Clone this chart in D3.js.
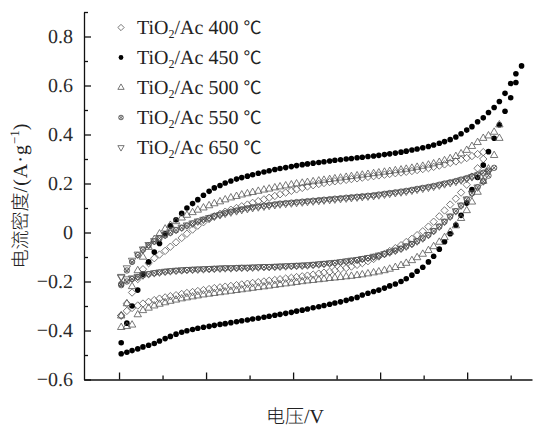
<!DOCTYPE html>
<html>
<head>
<meta charset="utf-8">
<script src="https://cdn.jsdelivr.net/npm/d3@7"></script>
<style>
  body { margin: 0; background: #fff; }
  svg { display: block; }
  text { text-rendering: geometricPrecision; }
  .serif { font-family: "Liberation Serif", "Times New Roman", serif; }
  .cjk { font-family: "Noto Sans CJK SC", sans-serif; }
</style>
</head>
<body>
<svg id="chart" width="533" height="431"></svg>
<script>
// Sweep potential (V), shared sampling grid for all scans
const volts = [0.005,0.018,0.030,0.043,0.055,0.068,0.081,0.093,0.106,0.118,
  0.131,0.144,0.156,0.169,0.181,0.194,0.207,0.219,0.232,0.244,
  0.257,0.270,0.282,0.295,0.307,0.320,0.333,0.345,0.358,0.370,
  0.383,0.396,0.408,0.421,0.433,0.446,0.459,0.471,0.484,0.496,
  0.509,0.522,0.534,0.547,0.559,0.572,0.585,0.597,0.610,0.622,
  0.635,0.648,0.660,0.673,0.685,0.698,0.711,0.723,0.736,0.748,
  0.761,0.774,0.786,0.799,0.811,0.824,0.837,0.849,0.862,0.874,
  0.887,0.900,0.912,0.925];

// Current density (A/g), forward (up) and reverse (down) sweeps
const t400Up = [-0.34,-0.29,-0.245,-0.19,-0.15,-0.125,-0.105,-0.09,-0.075,-0.058,
  -0.04,-0.022,-0.005,0.012,0.028,0.042,0.055,0.066,0.076,0.085,
  0.093,0.1,0.107,0.114,0.121,0.128,0.135,0.142,0.149,0.156,
  0.163,0.17,0.176,0.182,0.188,0.193,0.198,0.202,0.206,0.209,
  0.212,0.215,0.218,0.221,0.224,0.227,0.23,0.233,0.236,0.239,
  0.242,0.245,0.248,0.251,0.255,0.259,0.263,0.268,0.273,0.278,
  0.284,0.29,0.297,0.304,0.312,0.32,0.328];
const t400Down = [-0.338,-0.32,-0.308,-0.298,-0.29,-0.283,-0.276,-0.27,-0.265,-0.26,
  -0.256,-0.251,-0.247,-0.243,-0.239,-0.235,-0.231,-0.227,-0.224,-0.221,
  -0.218,-0.215,-0.212,-0.209,-0.206,-0.203,-0.2,-0.197,-0.194,-0.191,
  -0.188,-0.185,-0.182,-0.179,-0.176,-0.172,-0.168,-0.164,-0.16,-0.155,
  -0.15,-0.145,-0.139,-0.132,-0.125,-0.117,-0.108,-0.098,-0.087,-0.076,
  -0.064,-0.052,-0.039,-0.026,-0.011,0.005,0.024,0.044,0.066,0.09,
  0.114,0.138,0.163,0.195,0.228,0.262,0.3];

const t450Up = [-0.45,-0.37,-0.30,-0.235,-0.17,-0.12,-0.08,-0.045,-0.005,0.027,
  0.052,0.078,0.10,0.118,0.134,0.152,0.168,0.182,0.192,0.202,
  0.21,0.218,0.224,0.23,0.236,0.242,0.247,0.252,0.257,0.261,
  0.265,0.269,0.273,0.277,0.28,0.283,0.286,0.289,0.292,0.295,
  0.297,0.300,0.302,0.305,0.307,0.310,0.312,0.315,0.318,0.321,
  0.324,0.328,0.332,0.337,0.341,0.346,0.351,0.357,0.364,0.371,
  0.379,0.39,0.403,0.418,0.432,0.452,0.468,0.49,0.51,0.535,
  0.568,0.608,0.648,0.68];
const t450Down = [-0.495,-0.489,-0.482,-0.475,-0.467,-0.46,-0.453,-0.443,-0.433,-0.424,
  -0.415,-0.407,-0.401,-0.396,-0.391,-0.387,-0.383,-0.379,-0.375,-0.372,
  -0.368,-0.364,-0.36,-0.357,-0.353,-0.35,-0.346,-0.342,-0.338,-0.334,
  -0.33,-0.326,-0.321,-0.317,-0.312,-0.307,-0.303,-0.298,-0.293,-0.288,
  -0.283,-0.277,-0.271,-0.265,-0.255,-0.248,-0.241,-0.235,-0.227,-0.218,
  -0.21,-0.2,-0.189,-0.174,-0.158,-0.142,-0.12,-0.097,-0.068,-0.038,
  -0.005,0.03,0.07,0.12,0.175,0.225,0.275,0.33,0.385,0.44,
  0.495,0.55,0.612];

const t500Up = [-0.34,-0.29,-0.22,-0.155,-0.1,-0.06,-0.028,-0.005,0.015,0.03,
  0.045,0.06,0.071,0.082,0.092,0.101,0.11,0.118,0.126,0.134,
  0.142,0.148,0.154,0.159,0.164,0.169,0.174,0.178,0.183,0.187,
  0.191,0.195,0.199,0.202,0.205,0.208,0.211,0.214,0.217,0.22,
  0.223,0.226,0.229,0.232,0.235,0.238,0.241,0.244,0.247,0.25,
  0.253,0.256,0.259,0.263,0.267,0.271,0.276,0.281,0.287,0.294,
  0.302,0.311,0.322,0.336,0.352,0.368,0.385,0.395,0.41,0.44];
const t500Down = [-0.387,-0.383,-0.377,-0.335,-0.318,-0.308,-0.299,-0.292,-0.286,-0.28,
  -0.275,-0.27,-0.266,-0.262,-0.258,-0.254,-0.251,-0.248,-0.245,-0.242,
  -0.239,-0.236,-0.233,-0.23,-0.227,-0.224,-0.221,-0.218,-0.215,-0.212,
  -0.209,-0.206,-0.203,-0.2,-0.197,-0.195,-0.192,-0.19,-0.187,-0.185,
  -0.183,-0.18,-0.178,-0.175,-0.172,-0.168,-0.164,-0.16,-0.155,-0.149,
  -0.142,-0.134,-0.125,-0.114,-0.102,-0.088,-0.073,-0.057,-0.039,-0.02,
  0.002,0.028,0.058,0.09,0.125,0.165,0.21,0.26,0.315,0.385];

const t550Up = [-0.21,-0.155,-0.12,-0.092,-0.07,-0.052,-0.037,-0.024,-0.012,-0.001,
  0.009,0.019,0.028,0.037,0.045,0.053,0.06,0.067,0.073,0.079,
  0.085,0.09,0.095,0.099,0.103,0.106,0.109,0.112,0.115,0.118,
  0.12,0.122,0.124,0.126,0.128,0.13,0.132,0.134,0.136,0.138,
  0.14,0.142,0.144,0.146,0.148,0.15,0.152,0.155,0.158,0.161,
  0.164,0.167,0.17,0.174,0.178,0.182,0.186,0.19,0.195,0.2,
  0.205,0.21,0.216,0.222,0.229,0.236,0.244,0.253,0.264];
const t550Down = [-0.215,-0.2,-0.19,-0.182,-0.175,-0.17,-0.166,-0.163,-0.16,-0.158,
  -0.156,-0.155,-0.153,-0.152,-0.151,-0.15,-0.149,-0.148,-0.147,-0.146,
  -0.146,-0.145,-0.144,-0.144,-0.143,-0.142,-0.141,-0.141,-0.14,-0.139,
  -0.138,-0.137,-0.136,-0.135,-0.134,-0.132,-0.13,-0.128,-0.126,-0.124,
  -0.121,-0.118,-0.115,-0.112,-0.108,-0.104,-0.099,-0.094,-0.088,-0.081,
  -0.074,-0.066,-0.057,-0.047,-0.036,-0.024,-0.01,0.006,0.024,0.044,
  0.065,0.087,0.11,0.135,0.16,0.185,0.208,0.232];

const t650Up = [-0.18,-0.145,-0.114,-0.089,-0.068,-0.05,-0.034,-0.021,-0.009,0.002,
  0.012,0.021,0.03,0.038,0.046,0.053,0.06,0.066,0.072,0.078,
  0.083,0.088,0.093,0.097,0.101,0.104,0.107,0.11,0.113,0.116,
  0.118,0.12,0.122,0.124,0.126,0.128,0.13,0.132,0.134,0.136,
  0.138,0.14,0.142,0.144,0.146,0.148,0.15,0.153,0.156,0.159,
  0.162,0.165,0.168,0.172,0.176,0.18,0.184,0.188,0.193,0.198,
  0.203,0.208,0.214,0.22,0.227,0.234,0.242,0.25];
const t650Down = [-0.183,-0.19,-0.186,-0.18,-0.174,-0.169,-0.165,-0.162,-0.159,-0.157,
  -0.155,-0.153,-0.152,-0.151,-0.15,-0.149,-0.148,-0.147,-0.146,-0.145,
  -0.145,-0.144,-0.143,-0.143,-0.142,-0.141,-0.14,-0.14,-0.139,-0.138,
  -0.137,-0.136,-0.135,-0.134,-0.133,-0.131,-0.129,-0.127,-0.125,-0.123,
  -0.12,-0.117,-0.114,-0.111,-0.107,-0.103,-0.098,-0.093,-0.087,-0.08,
  -0.073,-0.065,-0.056,-0.046,-0.035,-0.023,-0.009,0.007,0.025,0.045,
  0.066,0.088,0.111,0.136,0.16,0.185,0.21];

const temps = ["400", "450", "500", "550", "650"];
const markerKinds = ["diamond", "dot", "triangle", "crossCircle", "triangleDown"];
const yTickValues = [-0.6, -0.4, -0.2, 0, 0.2, 0.4, 0.6, 0.8];
const yTickLabels = ["\u22120.6", "\u22120.4", "\u22120.2", "0", "0.2", "0.4", "0.6", "0.8"];
const yMinorValues = [-0.5, -0.3, -0.1, 0.1, 0.3, 0.5, 0.7, 0.9];
const xTickValues = [0, 0.2, 0.4, 0.6, 0.8];
const xMinorValues = [0.1, 0.3, 0.5, 0.7, 0.9];

const scans = [
  { up: t400Up, down: t400Down },
  { up: t450Up, down: t450Down },
  { up: t500Up, down: t500Down },
  { up: t550Up, down: t550Down },
  { up: t650Up, down: t650Down }
];

const svg = d3.select("#chart");

const x = d3.scaleLinear().domain([-0.0805, 0.949]).range([84, 532]);
const y = d3.scaleLinear().domain([-0.6, 0.9]).range([379.5, 12]);

// marker outlines centred on the origin
function markerPath(kind, s) {
  const p = d3.path();
  if (kind === "diamond") {
    const h = 3.7 * s;
    p.moveTo(0, -h); p.lineTo(h, 0); p.lineTo(0, h); p.lineTo(-h, 0); p.closePath();
  } else if (kind === "triangle") {
    const w = 3.7 * s, t = 4.2 * s, b = 2.2 * s;
    p.moveTo(0, -t); p.lineTo(w, b); p.lineTo(-w, b); p.closePath();
  } else if (kind === "triangleDown") {
    const w = 3.7 * s, t = 4.2 * s, b = 2.2 * s;
    p.moveTo(0, t); p.lineTo(w, -b); p.lineTo(-w, -b); p.closePath();
  } else if (kind === "crossCircle") {
    const r = 2.7 * s, c = 1.9 * s;
    p.moveTo(r, 0); p.arc(0, 0, r, 0, 2 * Math.PI);
    p.moveTo(-c, -c); p.lineTo(c, c);
    p.moveTo(-c, c); p.lineTo(c, -c);
  } else {
    const r = 2.8 * s;
    p.moveTo(r, 0); p.arc(0, 0, r, 0, 2 * Math.PI);
  }
  return p.toString();
}

function styleMarker(sel, kind) {
  if (kind === "dot") {
    sel.attr("fill", "#000").attr("stroke", "none");
  } else {
    sel.attr("fill", "none")
      .attr("stroke", kind === "crossCircle" ? "#3a3a3a" : "#555")
      .attr("stroke-width", 0.8);
  }
}

// axes: inward ticks, no x labels
const yAxis = d3.axisLeft(y).tickValues(yTickValues).tickSize(-7).tickSizeOuter(0).tickFormat("");
const yMinor = d3.axisLeft(y).tickValues(yMinorValues).tickSize(-4).tickSizeOuter(0).tickFormat("");
const xAxis = d3.axisBottom(x).tickValues(xTickValues).tickSize(-7).tickSizeOuter(0).tickFormat("");
const xMinor = d3.axisBottom(x).tickValues(xMinorValues).tickSize(-4).tickSizeOuter(0).tickFormat("");

svg.append("g").attr("transform", "translate(84,0)").call(yAxis);
svg.append("g").attr("transform", "translate(84,0)").call(yMinor).select(".domain").remove();
svg.append("g").attr("transform", "translate(0,379.5)").call(xAxis);
svg.append("g").attr("transform", "translate(0,379.5)").call(xMinor).select(".domain").remove();
svg.selectAll(".domain, .tick line").attr("stroke", "#111").attr("stroke-width", 1.3);

// y tick labels
svg.append("g").selectAll("text").data(yTickValues).join("text")
  .attr("class", "serif")
  .attr("x", 73)
  .attr("y", d => y(d) + 6.8)
  .attr("text-anchor", "end")
  .attr("font-size", 20)
  .attr("fill", "#2a2a2a")
  .text((d, i) => yTickLabels[i]);

// data markers
scans.forEach((scan, k) => {
  const kind = markerKinds[k];
  const pts = scan.up.map((v, i) => [volts[i], v])
    .concat(scan.down.map((v, i) => [volts[i], v]));
  const g = svg.append("g").attr("class", "scan-" + temps[k]);
  g.selectAll("path").data(pts).join("path")
    .attr("d", markerPath(kind, 1))
    .attr("transform", d => `translate(${x(d[0])},${y(d[1])})`)
    .call(styleMarker, kind);
});

// legend
const legend = svg.append("g");
temps.forEach((t, k) => {
  const cy = 27.5 + 30 * k;
  legend.append("path")
    .attr("d", markerPath(markerKinds[k], 0.85))
    .attr("transform", `translate(121,${cy})`)
    .call(styleMarker, markerKinds[k]);
  const txt = legend.append("text")
    .attr("class", "serif")
    .attr("x", 137).attr("y", cy + 6.8)
    .attr("font-size", 20).attr("fill", "#222");
  txt.append("tspan").text("TiO");
  txt.append("tspan").attr("font-size", 12).attr("dy", 4).text("2");
  txt.append("tspan").attr("dy", -4).text(`/Ac ${t} `);
  txt.append("tspan").attr("class", "cjk").attr("font-size", 18).text("\u2103");
});

// axis titles
const yTitle = svg.append("text")
  .attr("transform", "translate(27,196) rotate(-90)")
  .attr("text-anchor", "middle").attr("fill", "#222");
yTitle.append("tspan").attr("class", "cjk").attr("font-size", 19).attr("font-weight", 300).text("电流密度");
yTitle.append("tspan").attr("class", "serif").attr("font-size", 20).attr("letter-spacing", 1).text("/(A\u00b7g");
yTitle.append("tspan").attr("class", "serif").attr("font-size", 13).attr("dy", -8).text("\u22121");
yTitle.append("tspan").attr("class", "serif").attr("font-size", 20).attr("dy", 8).text(")");

const xTitle = svg.append("text")
  .attr("x", 295).attr("y", 423)
  .attr("text-anchor", "middle").attr("fill", "#222");
xTitle.append("tspan").attr("class", "cjk").attr("font-size", 19).attr("font-weight", 300).text("电压");
xTitle.append("tspan").attr("class", "serif").attr("font-size", 20).text("/V");
</script>
</body>
</html>
